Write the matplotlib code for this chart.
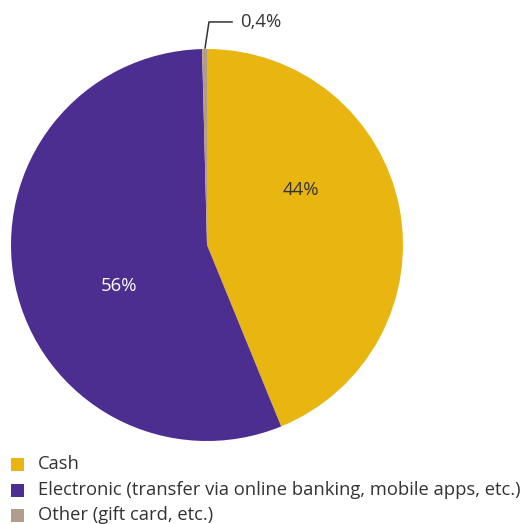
import matplotlib
matplotlib.use("Agg")
import matplotlib.pyplot as plt
from matplotlib.patches import Rectangle

plt.rcParams['font.family'] = ['Open Sans', 'DejaVu Sans']

categories = ["Cash",
              "Electronic (transfer via online banking, mobile apps, etc.)",
              "Other (gift card, etc.)"]
shares = [44, 56, 0.4]
share_labels = ["44%", "56%", "0,4%"]
colors = ["#e9b611", "#4b2e90", "#b29c8e"]

W, H = 526, 524
fig = plt.figure(figsize=(W / 100, H / 100), dpi=100)

# pie axes: centre (207, 245) px, radius 196 px
cx, cy, r = 207, 245, 196
ax = fig.add_axes([(cx - r) / W, (H - cy - r) / H, 2 * r / W, 2 * r / H])
ax.pie(shares, colors=colors, startangle=90, counterclock=False,
       wedgeprops=dict(linewidth=0))
ax.set_xlim(-1, 1)
ax.set_ylim(-1, 1)
ax.set_aspect('equal')
ax.axis('off')

# in-slice labels
ax.text(0.48, 0.28, share_labels[0], ha='center', va='center',
        fontsize=13.3, color="#333333")
ax.text(-0.449, -0.209, share_labels[1], ha='center', va='center',
        fontsize=13.3, color="white")

# callout for the tiny slice
ax.plot([-0.01, 0.01, 0.128], [1.005, 1.138, 1.138], color="#333333",
        linewidth=1.1, clip_on=False)
ax.text(0.168, 1.138, share_labels[2], ha='left', va='center',
        fontsize=13.3, color="#333333", clip_on=False)

# legend
ys = [464, 490, 515]
for name, col, y in zip(categories, colors, ys):
    fig.add_artist(Rectangle((11 / W, (H - y - 6.5) / H), 13 / W, 13 / H,
                             transform=fig.transFigure, color=col, lw=0))
    fig.text(38 / W, (H - y) / H, name, ha='left', va='center',
             fontsize=13.25, color="#333333")

fig.savefig("out.png", dpi=100)
